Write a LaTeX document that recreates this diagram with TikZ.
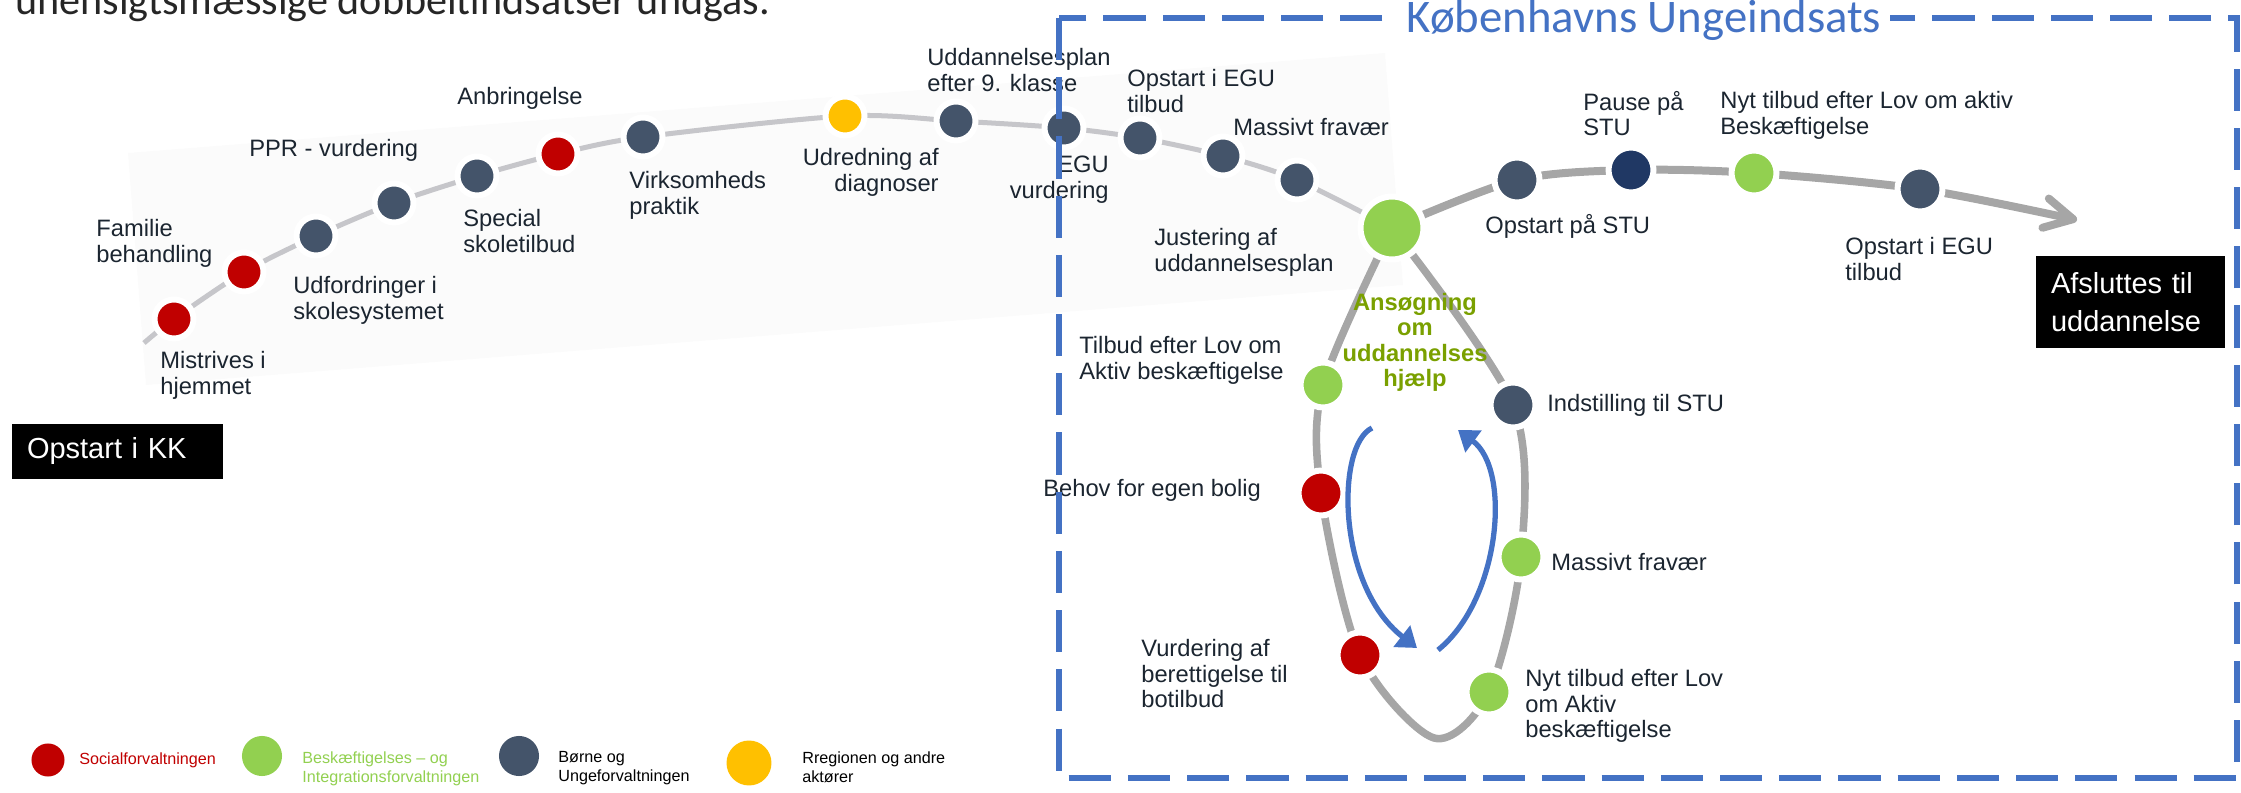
\documentclass[tikz,border=0pt]{standalone}
\usepackage{fontspec}
\setmainfont{Liberation Sans}
\newfontfamily\calibri{Carlito}
\usetikzlibrary{arrows.meta}
\pgfdeclarelayer{background}
\pgfsetlayers{background,main}
\definecolor{socred}{HTML}{C00000}
\definecolor{bifgreen}{HTML}{92D050}
\definecolor{bufslate}{HTML}{44546A}
\definecolor{navydot}{HTML}{203864}
\definecolor{regyellow}{HTML}{FFC000}
\definecolor{kuiblue}{HTML}{4472C4}
\definecolor{olivetext}{HTML}{7AA000}
\definecolor{labeltext}{HTML}{1B2530}
\definecolor{trackgray}{HTML}{C6C6CA}
\definecolor{loopgray}{HTML}{A6A6A6}
\definecolor{bandgray}{HTML}{FBFBFB}
\begin{document}
\begin{tikzpicture}[x=0.02cm,y=-0.02cm,
  milestone/.style={circle,inner sep=0pt,draw=white,line width=3.4pt,minimum size=25.6pt},
  smallstone/.style={milestone,minimum size=22.2pt},
  legdot/.style={circle,inner sep=0pt},
  milelabel/.style={text=labeltext,font=\fontsize{13.5}{14.5}\selectfont,inner sep=0pt,align=left},
  leglabel/.style={font=\fontsize{9.2}{10.8}\selectfont,inner sep=0pt,align=left},
  blackbox/.style={fill=black,text=white,font=\fontsize{16.5}{22}\selectfont,align=left,inner ysep=0pt,inner xsep=8.5pt},
  toptrack/.style={draw=trackgray,line width=2.85pt},
  graytrack/.style={draw=loopgray,line width=4.3pt},
  turnarrow/.style={draw=kuiblue,line width=3pt,-{Triangle[length=11pt,width=15pt]}}]
\useasboundingbox (0,0) rectangle (2241,793);
\node[anchor=base west,inner sep=0pt,font=\calibri\fontsize{24}{28}\selectfont,text=black!85] (intro) at (15,15) {uhensigtsmæssige dobbeltindsatser undgås.};
% Milepæle paa sporet
\coordinate (trackstart) at (144,343);
\coordinate (trackend) at (2077,220);
\node[smallstone,fill=socred] (d1) at (174,319) {};
\node[smallstone,fill=socred] (d2) at (244,272) {};
\node[smallstone,fill=bufslate] (d3) at (316,236) {};
\node[smallstone,fill=bufslate] (d4) at (394,203) {};
\node[smallstone,fill=bufslate] (d5) at (477,176) {};
\node[smallstone,fill=socred] (d6) at (558,154) {};
\node[smallstone,fill=bufslate] (d7) at (643,137) {};
\node[smallstone,fill=regyellow] (d8) at (845,116) {};
\node[smallstone,fill=bufslate] (d9) at (956,121) {};
\node[smallstone,fill=bufslate] (d10) at (1064,128) {};
\node[smallstone,fill=bufslate] (d11) at (1140,138) {};
\node[smallstone,fill=bufslate] (d12) at (1223,156) {};
\node[smallstone,fill=bufslate] (d13) at (1297,180) {};
\node[milestone,fill=bifgreen,minimum size=35.8pt] (hub) at (1392,228) {};
\node[milestone,fill=bufslate] (d15) at (1517,180) {};
\node[milestone,fill=navydot] (d16) at (1631,170) {};
\node[milestone,fill=bifgreen] (d17) at (1754,173) {};
\node[milestone,fill=bufslate] (d18) at (1920,189) {};
% Kredsloebet
\coordinate (loopbottom) at (1434,738);
\node[milestone,fill=bifgreen] (c1) at (1323,385) {};
\node[milestone,fill=bufslate] (c2) at (1513,405) {};
\node[milestone,fill=socred] (c3) at (1321,493) {};
\node[milestone,fill=bifgreen] (c4) at (1521,557) {};
\node[milestone,fill=socred] (c5) at (1360,655) {};
\node[milestone,fill=bifgreen] (c6) at (1489,692) {};
\begin{pgfonlayer}{background}
\fill[bandgray] (128,153) -- (1385,53) -- (1403,285) -- (146,385) -- cycle; % baggrund
\draw[toptrack] plot[smooth] coordinates {(trackstart) (d1.center) (d2.center) (d3.center) (d4.center) (d5.center) (d6.center) (d7.center) (d8.center) (d9.center) (d10.center) (d11.center) (d12.center) (d13.center) (hub.center)};
\draw[graytrack,line width=4.55pt,-{Straight Barb[length=16pt,width=17pt,round]}] plot[smooth] coordinates {(hub.center) (d15.center) (d16.center) (d17.center) (d18.center) (trackend)};
\draw[graytrack] plot[smooth] coordinates {(hub.center) (c1.center) (c3.center) (c5.center) (loopbottom) (c6.center) (c4.center) (c2.center) (hub.center)};
\end{pgfonlayer}
\draw[turnarrow] (1372,428) .. controls (1336,445) and (1336,585) .. (1417,648);
\draw[turnarrow] (1438,650) .. controls (1500,600) and (1512,470) .. (1458,430);
% Tekster
\node[milelabel,anchor=north west] (lfam) at (96,219) {Familie\\behandling};
\node[milelabel,anchor=north west] (lmis) at (160,351) {Mistrives i\\hjemmet};
\node[milelabel,anchor=north west] (ludf) at (293,276) {Udfordringer i\\skolesystemet};
\node[milelabel,anchor=west] (lppr) at (249,150) {PPR - vurdering};
\node[milelabel,anchor=north west] (lspe) at (463,209) {Special\\skoletilbud};
\node[milelabel,anchor=west] (lanb) at (457,98) {Anbringelse};
\node[milelabel,anchor=north west] (lvir) at (629,171) {Virksomheds\\praktik};
\node[milelabel,anchor=north east,align=right] (ludr) at (939,148) {Udredning af\\diagnoser};
\node[milelabel,anchor=north west] (lupl) at (927,48) {Uddannelsesplan\\efter 9. klasse};
\node[milelabel,anchor=north east,align=right] (legu) at (1109,156) {EGU\\vurdering};
\node[milelabel,anchor=north west] (lopa) at (1127,69) {Opstart i EGU\\tilbud};
\node[milelabel,anchor=west] (lmas) at (1233,127) {Massivt fravær};
\node[milelabel,anchor=north west] (ljus) at (1154,228) {Justering af\\uddannelsesplan};
\node[milelabel,anchor=west] (lstu) at (1485,226) {Opstart på STU};
\node[milelabel,anchor=north west] (lpau) at (1583,91) {Pause på\\STU};
\node[milelabel,anchor=north west] (lnyt) at (1720,91) {Nyt tilbud efter Lov om aktiv\\Beskæftigelse};
\node[milelabel,anchor=north west] (lopb) at (1845,237) {Opstart i EGU\\tilbud};
\node[milelabel,anchor=north,align=center,text=olivetext,font=\bfseries\fontsize{13.5}{14.4}\selectfont] (lans) at (1415,293) {Ansøgning\\om\\uddannelses\\hjælp};
\node[milelabel,anchor=north west] (ltil) at (1079,336) {Tilbud efter Lov om\\Aktiv beskæftigelse};
\node[milelabel,anchor=west] (lind) at (1547,405) {Indstilling til STU};
\node[milelabel,anchor=west] (lbeh) at (1043,490) {Behov for egen bolig};
\node[milelabel,anchor=west] (lmaf) at (1551,562) {Massivt fravær};
\node[milelabel,anchor=north west] (lvur) at (1141,639) {Vurdering af\\berettigelse til\\botilbud};
\node[milelabel,anchor=north west] (lnya) at (1525,669) {Nyt tilbud efter Lov\\om Aktiv\\beskæftigelse};
% Start og slut
\node[blackbox,minimum width=120pt,minimum height=31.3pt,text width=103pt] (kkstart) at (117.5,451.5) {Opstart i KK};
\node[blackbox,minimum width=107.5pt,minimum height=52.3pt,text width=90.5pt] (finish) at (2130.5,302) {Afsluttes til\\uddannelse};
% Signaturforklaring
\node[legdot,fill=socred,minimum size=18.8pt] (leg1) at (48,760) {};
\node[leglabel,anchor=west,text=socred] (leg1t) at (79,760) {Socialforvaltningen};
\node[legdot,fill=bifgreen,minimum size=22.8pt] (leg2) at (262,756) {};
\node[leglabel,anchor=north west,text=bifgreen] (leg2t) at (302,751) {Beskæftigelses – og\\Integrationsforvaltningen};
\node[legdot,fill=bufslate,minimum size=22.8pt] (leg3) at (519,756) {};
\node[leglabel,anchor=north west] (leg3t) at (558,751) {Børne og\\Ungeforvaltningen};
\node[legdot,fill=regyellow,minimum size=25.6pt] (leg4) at (749,763) {};
\node[leglabel,anchor=north west] (leg4t) at (802,751) {Rregionen og andre\\aktører};
% Koebenhavns Ungeindsats
\draw[kuiblue,line width=2.9pt,dash pattern=on 24pt off 9.7pt] (1059,18) rectangle (2237,778);
\node[fill=white,inner xsep=5pt,inner ysep=1pt,anchor=base,font=\calibri\fontsize{26.6}{30}\selectfont,text=kuiblue] (kuititle) at (1644,33) {Københavns Ungeindsats};
\end{tikzpicture}
\end{document}
